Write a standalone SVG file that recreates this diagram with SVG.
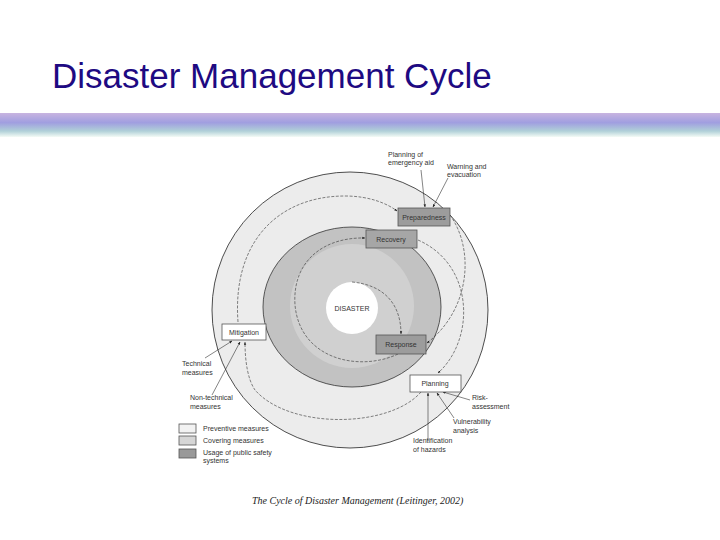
<svg xmlns="http://www.w3.org/2000/svg" width="720" height="540" viewBox="0 0 720 540">
<defs>
<linearGradient id="band" x1="0" y1="0" x2="0" y2="1">
<stop offset="0" stop-color="#c8b4e0"/><stop offset="0.4" stop-color="#a09ee0"/><stop offset="0.75" stop-color="#b0d0d8"/><stop offset="1" stop-color="#f4fbf6"/>
</linearGradient>
<marker id="ah" viewBox="0 0 10 10" refX="9" refY="5" markerWidth="5" markerHeight="5" orient="auto"><path d="M0,1 L10,5 L0,9 z" fill="#222"/></marker>
</defs>
<style>
.t{font-family:"Liberation Sans",Arial,sans-serif;font-size:7px;fill:#333}
.bx{stroke:#555;stroke-width:0.8}
.c{fill:none;stroke:#333;stroke-width:0.6;stroke-dasharray:3 1.5;marker-end:url(#ah)}
.e{fill:none;stroke:#333;stroke-width:0.6;marker-end:url(#ah)}
</style>
<rect width="720" height="540" fill="#fff"/>
<text x="52" y="88" font-family="Liberation Sans,Arial,sans-serif" font-size="35" fill="#1e0a82">Disaster Management Cycle</text>
<rect x="0" y="113" width="720" height="24" fill="url(#band)"/>
<g id="rings">
<ellipse cx="350" cy="310" rx="138" ry="138" fill="#ececec" stroke="#222" stroke-width="0.8"/>
<ellipse cx="352" cy="307" rx="89" ry="80" fill="#c2c2c2" stroke="#333" stroke-width="0.8"/>
<ellipse cx="352" cy="306" rx="62" ry="62" fill="#d0d0d0"/>
</g>
<g id="disaster"><circle cx="352" cy="308" r="26" fill="#fff"/><text class="t" x="352" y="311" text-anchor="middle" font-size="8">DISASTER</text></g>
<g id="connectors">
<path class="c" d="M238,322 C232,240 280,196 345,196 C370,196 388,204 397,211"/>
<path class="c" d="M450,215 C475,250 470,310 427,343"/>
<path class="c" d="M398,354 C360,372 300,360 295,305 C292,260 325,237 365,238"/>
<path class="c" d="M352,282 C385,285 401,305 401,334"/>
<path class="c" d="M418,240 C475,265 475,340 438,373"/>
<path class="c" d="M421,392 C390,428 290,430 255,390 C248,380 245,362 245,342"/>
<path class="e" d="M421,170 L425,207"/>
<path class="e" d="M448,178 L433,207"/>
<path class="e" d="M205,358 L232,341"/>
<path class="e" d="M212,395 L240,342"/>
<path class="e" d="M470,400 L443,392"/>
<path class="e" d="M454,418 L437,393"/>
<path class="e" d="M428,441 L428,393"/>
</g>
<g id="preparedness"><rect class="bx" x="398" y="208" width="52" height="18" fill="#9c9c9c"/><text class="t" x="424" y="219.5" text-anchor="middle">Preparedness</text></g>
<g id="recovery"><rect class="bx" x="366" y="230" width="51" height="18" fill="#a6a6a6"/><text class="t" x="391" y="241.5" text-anchor="middle">Recovery</text></g>
<g id="mitigation"><rect class="bx" x="222" y="324" width="44" height="16" fill="#fff"/><text class="t" x="244" y="335" text-anchor="middle">Mitigation</text></g>
<g id="response"><rect class="bx" x="376" y="335" width="50" height="19" fill="#9c9c9c"/><text class="t" x="401" y="347" text-anchor="middle">Response</text></g>
<g id="planning"><rect class="bx" x="410" y="375" width="51" height="17" fill="#fff"/><text class="t" x="435" y="386" text-anchor="middle">Planning</text></g>
<g id="labels">
<text class="t" x="388" y="157">Planning of</text><text class="t" x="388" y="165">emergency aid</text>
<text class="t" x="447" y="169">Warning and</text><text class="t" x="447" y="177">evacuation</text>
<text class="t" x="472" y="400">Risk-</text><text class="t" x="472" y="409">assessment</text>
<text class="t" x="453" y="424">Vulnerability</text><text class="t" x="453" y="433">analysis</text>
<text class="t" x="413" y="443">Identification</text><text class="t" x="413" y="452">of hazards</text>
<text class="t" x="182" y="366">Technical</text><text class="t" x="182" y="375">measures</text>
<text class="t" x="190" y="400">Non-technical</text><text class="t" x="190" y="409">measures</text>
</g>
<g id="legend">
<rect class="bx" x="179" y="424" width="17" height="9" fill="#f2f2f2" stroke-width="0.5"/><text class="t" x="203" y="431">Preventive measures</text>
<rect class="bx" x="179" y="436" width="17" height="9" fill="#d6d6d6" stroke-width="0.5"/><text class="t" x="203" y="443">Covering measures</text>
<rect class="bx" x="179" y="449" width="17" height="9" fill="#999" stroke-width="0.5"/><text class="t" x="203" y="455">Usage of public safety</text><text class="t" x="203" y="463">systems</text>
</g>
<text x="252" y="504" font-family="Liberation Serif,serif" font-style="italic" font-size="10" fill="#222">The Cycle of Disaster Management (Leitinger, 2002)</text>
</svg>
